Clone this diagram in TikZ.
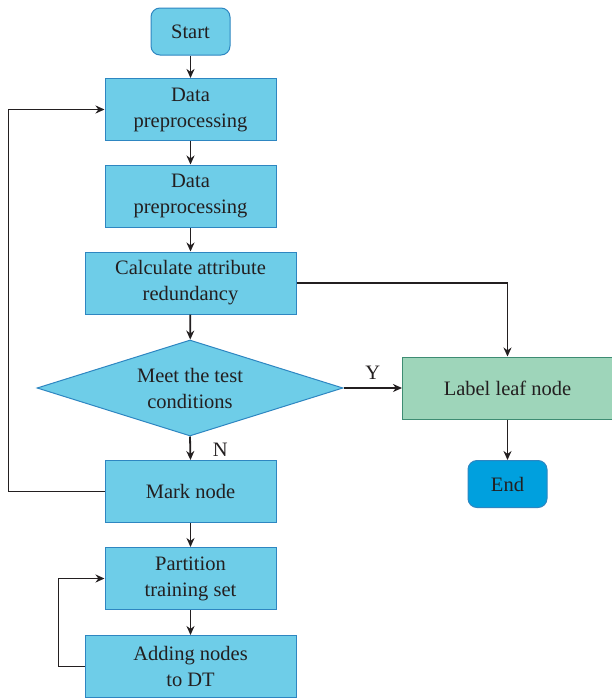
\documentclass[tikz,border=0pt]{standalone}
\usepackage{fontspec}
\setmainfont{Liberation Serif}
\usetikzlibrary{shapes.geometric,arrows.meta}
\definecolor{boxfill}{RGB}{110,205,232}
\definecolor{boxline}{RGB}{46,134,193}
\definecolor{leaffill}{RGB}{158,213,186}
\definecolor{leafline}{RGB}{62,140,115}
\definecolor{endfill}{RGB}{0,160,222}
\definecolor{txt}{RGB}{35,31,32}
\definecolor{wire}{RGB}{35,31,32}
\begin{document}
\begin{tikzpicture}[x=1pt,y=-1pt,
  every node/.style={font=\fontsize{20.5}{26}\selectfont, text=txt, align=center},
  proc/.style={draw=boxline, fill=boxfill, line width=1pt, inner sep=0pt, minimum width=171pt, minimum height=62pt},
  wideproc/.style={proc, minimum width=211pt},
  term/.style={draw=boxline, fill=boxfill, line width=1pt, rounded corners=9pt, inner sep=0pt, minimum width=79pt, minimum height=47pt},
  decision/.style={diamond, aspect=3.2, draw=boxline, fill=boxfill, line width=1pt, inner sep=0pt, minimum width=306pt, minimum height=96pt},
  arr/.style={draw=wire, line width=1.8pt, -{Stealth[length=9pt,width=8pt]}},
  lbl/.style={font=\fontsize{20.5}{22}\selectfont}
]
\useasboundingbox (0,0) rectangle (611,699);
\node[term] (start) at (190.5,31.5) {Start};
\node[proc] (dp1) at (190.5,109.5) {Data\\preprocessing};
\node[proc] (dp2) at (190.5,196) {Data\\preprocessing};
\node[wideproc] (calc) at (190.5,283) {Calculate attribute\\redundancy};
\node[decision] (dec) at (190,388) {Meet the test\\conditions};
\node[proc, draw=leafline, fill=leaffill, minimum width=210pt] (leaf) at (507.5,388) {Label leaf node};
\node[term, fill=endfill] (end) at (507.5,484) {End};
\node[proc] (mark) at (190.5,491.5) {Mark node};
\node[proc] (part) at (190.5,578.5) {Partition\\training set};
\node[wideproc] (add) at (190.5,666.5) {Adding nodes\\to DT};

\draw[arr] (start) -- (dp1);
\draw[arr] (dp1) -- (dp2);
\draw[arr] (dp2) -- (calc);
\draw[arr] (calc) -- (dec);
\draw[arr] (dec.south) -- node[lbl, midway, xshift=30pt, yshift=-2pt] {N} (mark.north);
\draw[arr] (dec.east) -- node[lbl, midway, above=4pt] {Y} (leaf.west);
\draw[arr] (calc.east) -| (leaf.north);
\draw[arr] (leaf.south) -- (end.north);
\draw[arr] (mark.west) -- ++(-96,0) |- (dp1.west);
\draw[arr] (mark) -- (part);
\draw[arr] (part) -- (add);
\draw[arr] (add.west) -- ++(-26,0) |- (part.west);
\end{tikzpicture}
\end{document}
